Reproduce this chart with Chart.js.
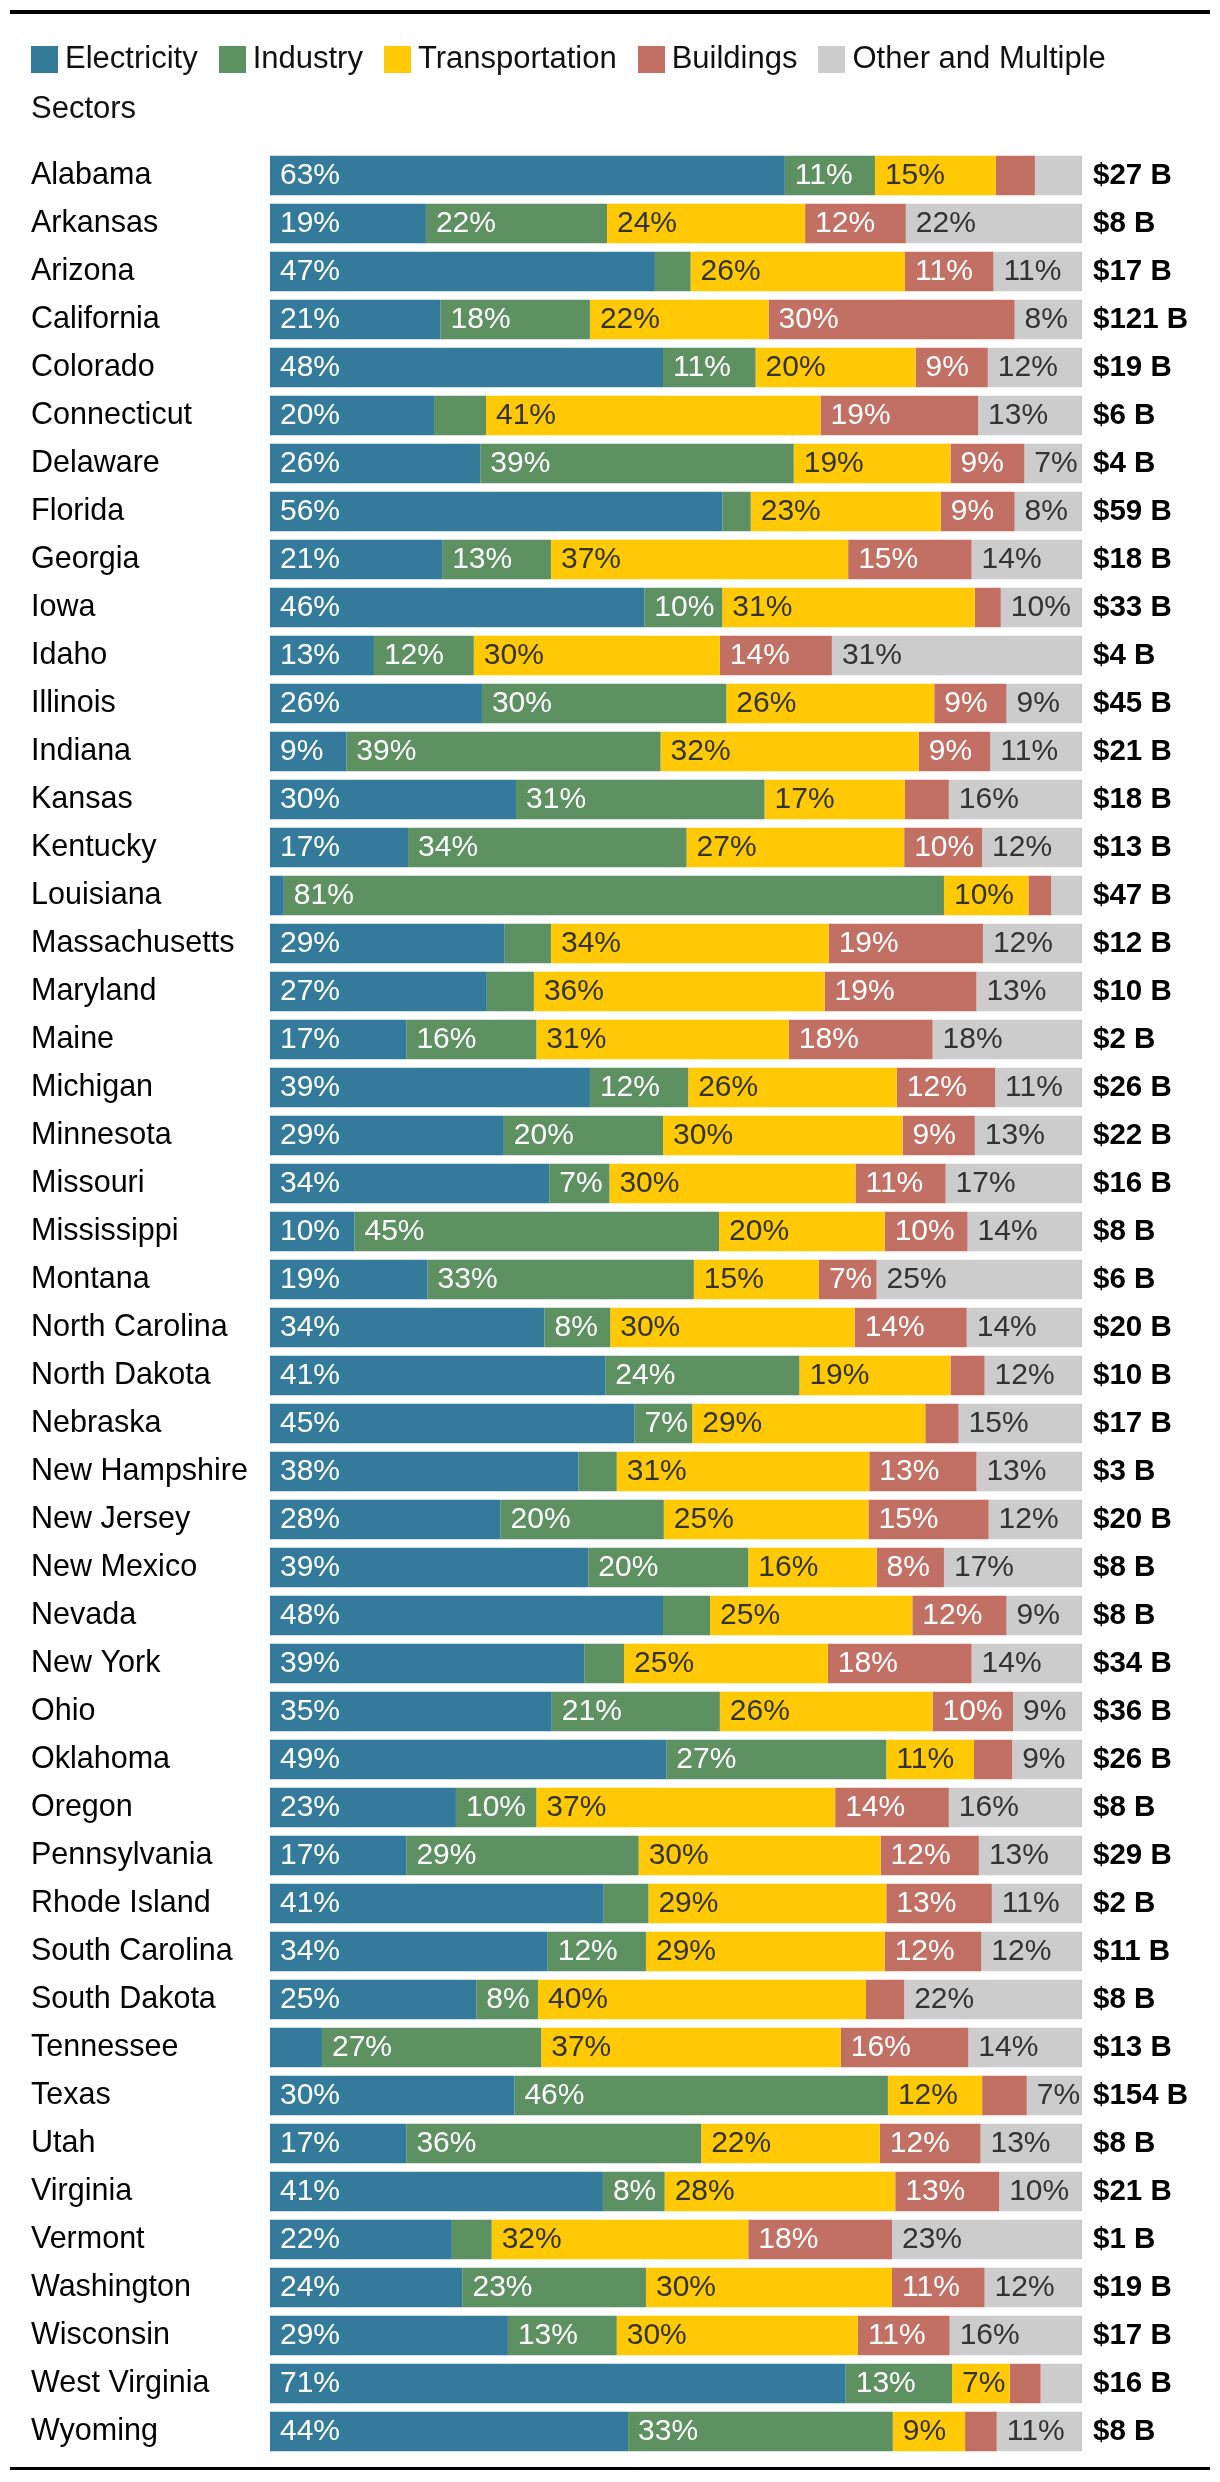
<!DOCTYPE html>
<html>
<head>
<meta charset="utf-8">
<script src="https://cdn.jsdelivr.net/npm/chart.js@4.4.0/dist/chart.umd.min.js"></script>
<style>
html,body{margin:0;padding:0;background:#fff;}
body{width:1220px;height:2482px;position:relative;overflow:hidden;font-family:'Liberation Sans',Arial,sans-serif;}
#topRule{position:absolute;left:10px;top:10px;width:1200px;height:4px;background:#000;}
#bottomRule{position:absolute;left:10px;top:2467px;width:1200px;height:3px;background:#000;}
#legend{position:absolute;left:31px;top:32.5px;width:1179px;font-size:31px;line-height:50.6px;color:#111;z-index:2;}
.sw{display:inline-block;width:27px;height:27px;vertical-align:-5px;margin-right:7px;}
.item{margin-right:21px;}
canvas{position:absolute;left:0;top:0;}
</style>
</head>
<body>
<div id="topRule"></div>
<div id="legend"></div>
<canvas id="c" width="1220" height="2482"></canvas>
<div id="bottomRule"></div>
<script>
const states = ['Alabama','Arkansas','Arizona','California','Colorado','Connecticut','Delaware','Florida','Georgia','Iowa','Idaho','Illinois','Indiana','Kansas','Kentucky','Louisiana','Massachusetts','Maryland','Maine','Michigan','Minnesota','Missouri','Mississippi','Montana','North Carolina','North Dakota','Nebraska','New Hampshire','New Jersey','New Mexico','Nevada','New York','Ohio','Oklahoma','Oregon','Pennsylvania','Rhode Island','South Carolina','South Dakota','Tennessee','Texas','Utah','Virginia','Vermont','Washington','Wisconsin','West Virginia','Wyoming'];
const totals = [27,8,17,121,19,6,4,59,18,33,4,45,21,18,13,47,12,10,2,26,22,16,8,6,20,10,17,3,20,8,8,34,36,26,8,29,2,11,8,13,154,8,21,1,19,17,16,8];
const electricity    = [63.4,19.2,47.4,21.0,48.4,20.2,25.9,55.7,21.2,46.1,12.8,26.1,9.4,30.3,17.0,1.7,28.9,26.7,16.8,39.4,28.8,34.4,10.4,19.4,33.8,41.3,44.9,38.0,28.4,39.2,48.4,38.7,34.7,48.8,22.9,16.8,41.1,34.2,25.4,6.4,30.1,16.8,41.0,22.4,23.7,29.3,70.9,44.1];
const industry       = [11.1,22.3,4.4,18.4,11.4,6.4,38.6,3.5,13.4,9.6,12.3,30.1,38.7,30.6,34.3,81.3,5.7,5.8,16.0,12.1,19.6,7.4,44.9,32.8,8.1,23.9,7.1,4.7,20.1,19.7,5.8,4.9,20.7,27.1,9.9,28.6,5.5,12.1,7.6,27.0,46.0,36.3,7.6,4.9,22.6,13.4,13.1,32.6];
const transportation = [14.9,24.4,26.4,22.0,19.7,41.2,19.3,23.4,36.6,31.1,30.3,25.6,31.8,17.3,26.8,10.4,34.2,35.8,31.1,25.7,29.5,30.3,20.4,15.4,30.1,18.6,28.7,31.1,25.2,15.8,24.9,25.1,26.2,10.8,36.8,29.8,29.3,29.4,40.4,36.9,11.6,22.0,28.4,31.6,30.3,29.7,7.1,8.9];
const buildings      = [4.8,12.4,10.9,30.3,8.9,19.4,9.1,9.1,15.2,3.2,13.8,8.9,8.8,5.4,9.6,2.8,19.0,18.7,17.7,12.1,8.9,11.1,10.2,7.1,13.8,4.2,4.1,13.2,14.8,8.3,11.6,17.7,9.9,4.7,14.0,12.1,13.0,11.9,4.7,15.7,5.5,12.4,12.8,17.7,11.4,11.3,3.8,3.9];
const other          = [5.8,21.7,10.9,8.3,11.6,12.8,7.1,8.3,13.6,10.0,30.8,9.3,11.3,16.4,12.3,3.8,12.2,13.0,18.4,10.7,13.2,16.8,14.1,25.3,14.2,12.0,15.2,13.0,11.5,17.0,9.3,13.6,8.5,8.6,16.4,12.7,11.1,12.4,21.9,14.0,6.8,12.5,10.2,23.4,12.0,16.3,5.1,10.5];
const seriesNames  = ['Electricity','Industry','Transportation','Buildings','Other and Multiple Sectors'];
const seriesColors = ['#347A9B','#5E9162','#FFCA05','#C17063','#CCCCCC'];
const labelColors  = ['#ffffff','#ffffff','#333333','#ffffff','#333333'];
const seriesData = [electricity, industry, transportation, buildings, other];

// HTML legend
const lg = document.getElementById('legend');
seriesNames.forEach((n,i)=>{
  const sw = document.createElement('span');
  sw.className='sw'; sw.style.background=seriesColors[i];
  const t = document.createElement('span');
  t.className='item'; t.textContent=n;
  lg.appendChild(sw); lg.appendChild(t);
});

const FONT = '"Liberation Sans", Arial, sans-serif';
Chart.defaults.font.family = FONT;

const barLabels = {
  id:'barLabels',
  afterDatasetsDraw(chart){
    const ctx = chart.ctx;
    ctx.save();
    ctx.font = '30px ' + FONT;
    ctx.textBaseline = 'middle';
    ctx.textAlign = 'left';
    chart.data.datasets.forEach((ds,di)=>{
      const meta = chart.getDatasetMeta(di);
      meta.data.forEach((bar,i)=>{
        const v = ds.data[i];
        const r = Math.round(v);
        if (r < 7) return;
        const left = Math.min(bar.x, bar.base);
        ctx.fillStyle = labelColors[di];
        ctx.fillText(r + '%', left + 10, bar.y);
      });
    });
    ctx.font = 'bold 29.5px ' + FONT;
    ctx.fillStyle = '#000';
    const ys = chart.scales.y;
    totals.forEach((t,i)=>{
      ctx.fillText('$' + t + ' B', chart.chartArea.right + 11, ys.getPixelForValue(i));
    });
    ctx.restore();
  }
};

new Chart(document.getElementById('c'), {
  type:'bar',
  data:{
    labels: states,
    datasets: seriesNames.map((n,i)=>({
      label:n, data:seriesData[i], backgroundColor:seriesColors[i],
      borderWidth:0, barPercentage:0.823, categoryPercentage:1
    }))
  },
  options:{
    indexAxis:'y',
    responsive:false,
    devicePixelRatio:1,
    animation:false,
    layout:{padding:{top:151.5,bottom:26.5,left:31,right:138}},
    plugins:{legend:{display:false},tooltip:{enabled:false}},
    scales:{
      x:{stacked:true,min:0,max:100,display:false},
      y:{stacked:true,grid:{display:false},border:{display:false},
         ticks:{autoSkip:false,crossAlign:'far',color:'#000',padding:0,font:{family:FONT,size:30.5}},
         afterFit(s){ s.width = 239; }
      }
    }
  },
  plugins:[barLabels]
});
</script>
</body>
</html>
